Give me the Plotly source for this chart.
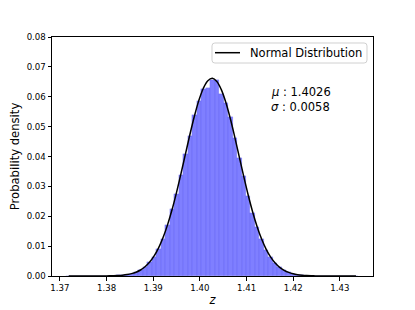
import plotly.graph_objects as go

# ---- data ----
bin_start = 1.3714
bin_width = 0.000962
bar_heights = [
    0, 0, 0, 0, 0, 0, 0, 0.00002, 0.00003, 0.00005,
    0.00010, 0.00017, 0.00030, 0.00050, 0.00083, 0.00125, 0.00196, 0.00300, 0.00470, 0.00640,
    0.00920, 0.01250, 0.01720, 0.02230, 0.02760, 0.03390, 0.04100, 0.04700, 0.05380, 0.05850,
    0.06270, 0.06280, 0.06560, 0.06550, 0.06080, 0.05800, 0.05330, 0.04620, 0.03960, 0.03350,
    0.02690, 0.02120, 0.01630, 0.01240, 0.00880, 0.00640, 0.00430, 0.00290, 0.00185, 0.00120,
    0.00075, 0.00044, 0.00026, 0.00015, 0.00008, 0.00004, 0.00002, 0, 0, 0,
    0, 0, 0, 0, 0,
]
fit_heights = [
    0, 0, 0, 0, 0, 0, 0.00001, 0.00001, 0.00003, 0.00005,
    0.00009, 0.00016, 0.00028, 0.00048, 0.00079, 0.00128, 0.00201, 0.00308, 0.00458, 0.00663,
    0.00934, 0.01278, 0.01703, 0.02208, 0.02784, 0.03416, 0.04077, 0.04735, 0.05349, 0.05879,
    0.06286, 0.06538, 0.06617, 0.06514, 0.06239, 0.05814, 0.05270, 0.04649, 0.03989, 0.03329,
    0.02704, 0.02136, 0.01642, 0.01228, 0.00893, 0.00632, 0.00435, 0.00291, 0.00190, 0.00120,
    0.00074, 0.00045, 0.00026, 0.00015, 0.00008, 0.00004, 0.00002, 0.00001, 0, 0,
    0, 0, 0, 0, 0,
]
legend_label = "Normal Distribution"
mu_text = "1.4026"
sigma_text = "0.0058"
x_ticks = [1.37, 1.38, 1.39, 1.40, 1.41, 1.42, 1.43]
y_ticks = [0.00, 0.01, 0.02, 0.03, 0.04, 0.05, 0.06, 0.07, 0.08]

centers = [bin_start + bin_width * (i + 0.5) for i in range(len(bar_heights))]

FONT = "DejaVu Sans"

fig = go.Figure()
fig.add_trace(go.Bar(
    x=centers, y=bar_heights, width=bin_width,
    marker=dict(color="rgba(0,0,255,0.5)", line=dict(color="rgba(0,0,200,0.25)", width=0.4)),
    showlegend=False, hoverinfo="skip",
))
fig.add_trace(go.Scatter(
    x=centers, y=fit_heights, mode="lines",
    line=dict(color="black", width=1.5, shape="spline", smoothing=1.0),
    name=legend_label, showlegend=False,
))

fig.add_annotation(x=1.4149, y=0.0616, xref="x", yref="y",
                   text="<i>μ</i> : " + mu_text, showarrow=False,
                   xanchor="left", yanchor="middle",
                   font=dict(family=FONT, size=11.5, color="black"))
fig.add_annotation(x=1.4149, y=0.0566, xref="x", yref="y",
                   text="<i>σ</i> : " + sigma_text, showarrow=False,
                   xanchor="left", yanchor="middle",
                   font=dict(family=FONT, size=11.5, color="black"))

# legend box drawn in paper coordinates (matplotlib-style rounded frame)
lx0, lx1, ly0, ly1 = 0.4984, 0.9813, 0.8912, 0.9749
rx, ry = 0.009, 0.012
legend_path = (
    f"M {lx0+rx},{ly0} L {lx1-rx},{ly0} Q {lx1},{ly0} {lx1},{ly0+ry} "
    f"L {lx1},{ly1-ry} Q {lx1},{ly1} {lx1-rx},{ly1} "
    f"L {lx0+rx},{ly1} Q {lx0},{ly1} {lx0},{ly1-ry} "
    f"L {lx0},{ly0+ry} Q {lx0},{ly0} {lx0+rx},{ly0} Z"
)
fig.add_shape(type="path", path=legend_path, xref="paper", yref="paper",
              line=dict(color="#d0d0d0", width=1), fillcolor="rgba(255,255,255,0.85)")
fig.add_shape(type="line", xref="paper", yref="paper",
              x0=0.5078, x1=0.5857, y0=0.9343, y1=0.9343,
              line=dict(color="black", width=1.5))
fig.add_annotation(x=0.6106, y=0.9343, xref="paper", yref="paper",
                   text=legend_label, showarrow=False,
                   xanchor="left", yanchor="middle",
                   font=dict(family=FONT, size=11.5, color="black"))

axis_common = dict(
    showline=True, linecolor="black", linewidth=1, mirror=True,
    ticks="outside", ticklen=3.5, tickwidth=1, tickcolor="black",
    showgrid=False, zeroline=False, automargin=False,
    tickfont=dict(family=FONT, size=8.6, color="black"),
)

# the page body adds an 8px offset at left/top; width/height and margins compensate
fig.update_layout(
    width=407, height=302,
    margin=dict(l=44, r=42, t=29, b=34),
    paper_bgcolor="white", plot_bgcolor="white",
    bargap=0,
    font=dict(family=FONT, color="black"),
    xaxis=dict(range=[1.3683, 1.4371], tickvals=x_ticks, tickformat=".2f",
               title=dict(text="<i>z</i>", font=dict(family=FONT, size=11.5), standoff=3),
               **axis_common),
    yaxis=dict(range=[0, 0.08], tickvals=y_ticks, tickformat=".2f",
               title=dict(text="Probability density", font=dict(family=FONT, size=11.6), standoff=6),
               **axis_common),
)

fig.write_html("out.html")
